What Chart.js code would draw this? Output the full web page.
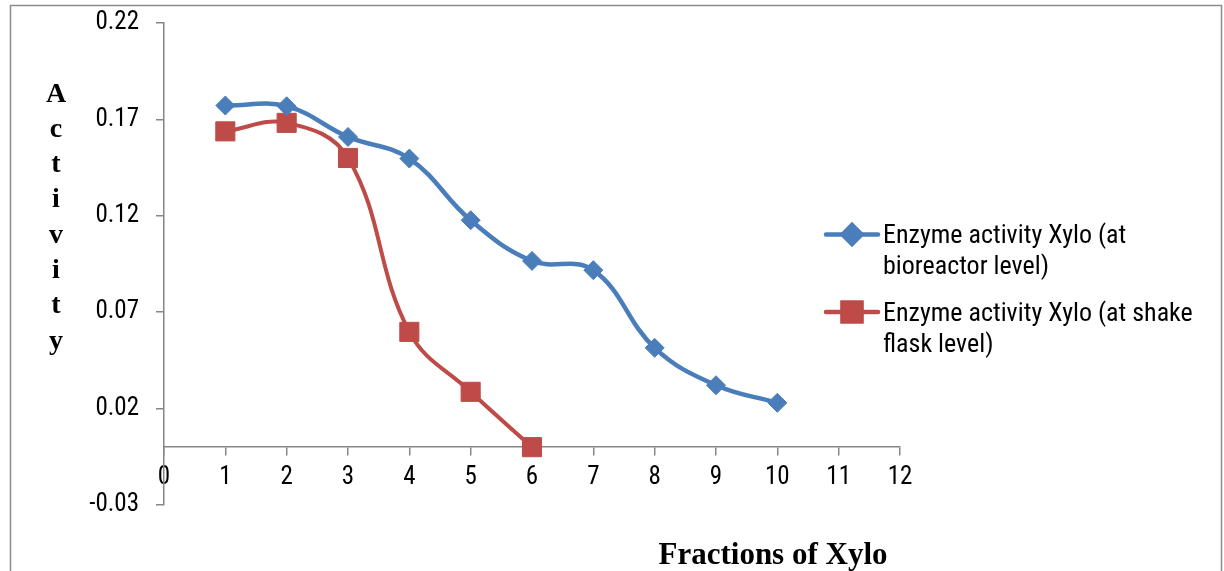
<!DOCTYPE html>
<html>
<head>
<meta charset="utf-8">
<script src="https://cdn.jsdelivr.net/npm/chart.js@4/dist/chart.umd.min.js"></script>
<style>
  html, body { margin: 0; padding: 0; background: #ffffff; }
  #wrap { position: relative; width: 1224px; height: 571px; overflow: hidden; }
  canvas { display: block; }
</style>
</head>
<body>
<div id="wrap"><canvas id="c" width="1224" height="571"></canvas></div>
<script>
// ---- data ----
const bioreactorX = [1, 2, 3, 4, 5, 6, 7, 8, 9, 10];
const bioreactorY = [0.1772, 0.1768, 0.1609, 0.1497, 0.1177, 0.0966, 0.0918, 0.0515, 0.0321, 0.0230];
const shakeFlaskX = [1, 2, 3, 4, 5, 6];
const shakeFlaskY = [0.1638, 0.1682, 0.1500, 0.0598, 0.0287, 0.0];
const seriesNames = ['Enzyme activity Xylo (at bioreactor level)', 'Enzyme activity Xylo (at shake flask level)'];
const legendLines = [['Enzyme activity Xylo (at', 'bioreactor level)'], ['Enzyme activity Xylo (at shake', 'flask level)']];
const yTickValues = [-0.03, 0.02, 0.07, 0.12, 0.17, 0.22];
const yTickLabels = ['-0.03', '0.02', '0.07', '0.12', '0.17', '0.22'];
const xTickValues = [0, 1, 2, 3, 4, 5, 6, 7, 8, 9, 10, 11, 12];
const xTickLabels = ['0', '1', '2', '3', '4', '5', '6', '7', '8', '9', '10', '11', '12'];
const yTitle = 'Activity';
const xTitle = 'Fractions of Xylo';

const BLUE = '#4A7EBB';
const RED = '#BE4B48';
const AXIS = '#868686';
const NARROW = "'Liberation Sans Narrow', 'Arial Narrow', 'Roboto Condensed', 'DejaVu Sans Condensed', sans-serif";
const SERIF = "'Liberation Serif', 'Times New Roman', 'DejaVu Serif', serif";

const toPoints = (xs, ys) => xs.map((x, i) => ({ x: x, y: ys[i] }));

const decorPlugin = {
  id: 'decor',
  beforeDraw(chart) {
    const ctx = chart.ctx;
    ctx.save();
    ctx.strokeStyle = '#8c8c8c';
    ctx.lineWidth = 1.5;
    ctx.strokeRect(10.5, 5.5, 1211, 620);
    ctx.restore();
  },
  afterDraw(chart) {
    const ctx = chart.ctx;
    ctx.save();
    ctx.fillStyle = '#000';
    ctx.font = 'bold 28px ' + SERIF;
    ctx.textAlign = 'center';
    ctx.textBaseline = 'alphabetic';
    yTitle.split('').forEach((ch, i) => ctx.fillText(ch, 56, 101.5 + i * 35.3));
    ctx.font = 'bold 31px ' + SERIF;
    ctx.fillText(xTitle, 773, 564);
    const ds = chart.data.datasets;
    const legendYs = [234.5, 312];
    ds.forEach((d, i) => {
      const y = legendYs[i];
      ctx.strokeStyle = d.borderColor;
      ctx.lineWidth = 4.5;
      ctx.lineCap = 'round';
      ctx.beginPath();
      ctx.moveTo(826, y);
      ctx.lineTo(878, y);
      ctx.stroke();
      Chart.helpers.drawPoint(ctx, {
        pointStyle: d.pointStyle,
        radius: d.pointRadius,
        rotation: 0,
        borderWidth: d.pointBorderWidth
      }, 852, y);
      ctx.fillStyle = d.pointBackgroundColor;
      ctx.strokeStyle = d.pointBorderColor;
      ctx.fill();
      ctx.lineWidth = d.pointBorderWidth;
      ctx.stroke();
      ctx.fillStyle = '#000';
      ctx.font = '26px ' + NARROW;
      ctx.textAlign = 'left';
      ctx.textBaseline = 'alphabetic';
      legendLines[i].forEach((ln, k) => ctx.fillText(ln, 883, y + 8.5 + k * 31));
    });
    ctx.restore();
  }
};

new Chart(document.getElementById('c'), {
  type: 'line',
  data: {
    datasets: [
      {
        label: seriesNames[0],
        data: toPoints(bioreactorX, bioreactorY),
        borderColor: BLUE,
        backgroundColor: BLUE,
        pointBackgroundColor: BLUE,
        pointBorderColor: BLUE,
        pointBorderWidth: 1,
        borderWidth: 4.5,
        pointStyle: 'rectRot',
        pointRadius: 9.5,
        tension: 0.4,
        fill: false
      },
      {
        label: seriesNames[1],
        data: toPoints(shakeFlaskX, shakeFlaskY),
        borderColor: RED,
        backgroundColor: RED,
        pointBackgroundColor: RED,
        pointBorderColor: RED,
        pointBorderWidth: 1,
        borderWidth: 4,
        pointStyle: 'rect',
        pointRadius: 13.5,
        tension: 0.4,
        fill: false
      }
    ]
  },
  options: {
    responsive: false,
    animation: false,
    events: [],
    layout: { padding: { top: 23, right: 324, bottom: 66, left: 0 } },
    plugins: {
      legend: { display: false },
      tooltip: { enabled: false },
      title: { display: false }
    },
    scales: {
      x: {
        type: 'linear',
        min: 0,
        max: 12,
        position: { y: 0 },
        afterBuildTicks: (s) => { s.ticks = xTickValues.map(v => ({ value: v })); },
        ticks: {
          autoSkip: false,
          maxRotation: 0,
          color: '#000',
          padding: 8,
          font: { family: NARROW, size: 25 },
          callback: (v) => xTickLabels[xTickValues.indexOf(v)]
        },
        grid: { drawOnChartArea: false, drawTicks: true, tickLength: 8, color: AXIS, lineWidth: 1.5 },
        border: { display: true, color: AXIS, width: 1.5 }
      },
      y: {
        type: 'linear',
        min: -0.03,
        max: 0.22,
        position: 'left',
        afterFit: (s) => { s.width = 164; s.paddingTop = 0; s.paddingBottom = 0; },
        afterBuildTicks: (s) => { s.ticks = yTickValues.map(v => ({ value: v })); },
        ticks: {
          autoSkip: false,
          color: '#000',
          padding: 17,
          font: { family: NARROW, size: 25 },
          callback: (v) => yTickLabels[yTickValues.indexOf(v)]
        },
        grid: { drawOnChartArea: false, drawTicks: true, tickLength: 8, color: AXIS, lineWidth: 1.5 },
        border: { display: true, color: AXIS, width: 1.5 }
      }
    }
  },
  plugins: [decorPlugin]
});
</script>
</body>
</html>
